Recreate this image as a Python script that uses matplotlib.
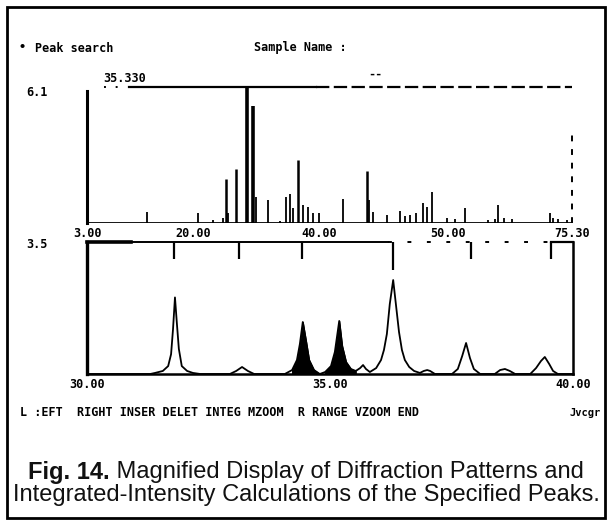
import matplotlib
matplotlib.use("Agg")
import matplotlib.pyplot as plt
from matplotlib.patches import Rectangle
from matplotlib.lines import Line2D

# ---------------- data ----------------
# Top panel: full-range stick pattern (2-theta, relative intensity %)
top_theta = [11.9, 19.5, 21.8, 23.3, 23.7, 24.0, 25.2, 26.9, 27.7, 28.2, 30.0,
             31.8, 32.7, 33.3, 33.7, 34.5, 35.2, 35.9, 36.7, 37.6, 41.2, 44.7,
             45.0, 45.6, 47.7, 49.7, 50.4, 51.1, 52.0, 53.1, 53.7, 54.4, 56.7,
             57.9, 59.3, 62.8, 63.8, 64.3, 65.2, 66.4, 72.0, 72.5, 73.2, 74.5]
top_int = [8, 7, 2, 4, 32, 7, 40, 100, 86, 19, 17,
           1.5, 19, 21, 11, 46, 13, 12, 7, 7, 18, 38,
           17, 8, 6, 9, 5, 6, 7, 15, 12, 23, 4,
           3, 11, 2, 3, 13, 4, 3, 7, 4, 3, 2]
top_ticks = [3.0, 18.8, 37.6, 56.8, 75.3]
top_tick_labels = ["3.00", "20.00", "40.00", "50.00", "75.30"]

# Bottom panel: magnified profile 30-40 deg (2-theta, intensity %)
bot_theta = [30.00, 31.30, 31.40, 31.56, 31.67, 31.73, 31.77, 31.81, 31.85, 31.89,
             31.95, 32.06, 32.18, 32.33,
             32.94, 33.07, 33.19, 33.31, 33.44,
             34.07, 34.22, 34.32, 34.38, 34.44, 34.51, 34.57, 34.67, 34.79,
             34.90, 35.02, 35.10, 35.19, 35.25, 35.33, 35.43, 35.53, 35.62,
             35.68, 35.74, 35.82,
             35.95, 36.05, 36.11, 36.17, 36.23, 36.30, 36.36, 36.42, 36.48,
             36.54, 36.63, 36.73, 36.85,
             36.93, 37.00, 37.06, 37.16,
             37.51, 37.63, 37.72, 37.80, 37.88, 37.96, 38.09,
             38.39, 38.50, 38.60, 38.70, 38.81,
             39.12, 39.24, 39.34, 39.42, 39.51, 39.59, 39.69, 40.00]
bot_int = [0, 0, 0.8, 2.3, 6, 15, 34, 58, 38, 19,
           6, 2.3, 0.8, 0,
           0, 2.3, 5.3, 2.3, 0,
           0, 3, 10.6, 22.7, 39.4, 24.2, 10.6, 3, 0,
           1.5, 6, 16.7, 40.2, 21.2, 9.1, 3.8, 2.3, 4.5,
           6.8, 3.8, 1.5,
           4.5, 10.6, 18.2, 30.3, 53, 71.2, 51.5, 31.8, 18.2,
           10.6, 5.3, 2.3, 0.8,
           2.3, 3, 2.3, 0,
           0, 3.8, 13.6, 23.5, 12.1, 3.8, 0,
           0, 3, 3.8, 2.3, 0,
           0, 4.5, 9.8, 12.9, 7.6, 2.3, 0, 0]
# integration windows (filled black)
int_windows = [(34.20, 34.80), (34.88, 35.60)]
# specified-peak markers hanging from top of the magnified panel
marker_theta = [31.79, 33.13, 34.42, 36.30, 37.90, 39.55]
marker_bottom = [87, 87, 87, 79, 87, 87]
bot_ticks = [30.0, 35.0, 40.0]
bot_tick_labels = ["30.00", "35.00", "40.00"]

caption_bold = "Fig. 14."
caption_line1 = " Magnified Display of Diffraction Patterns and"
caption_line2 = "Integrated-Intensity Calculations of the Specified Peaks."

# ---------------- figure ----------------
W, H = 612, 524
fig = plt.figure(figsize=(W / 100, H / 100), dpi=100)
fig.patch.set_facecolor("white")

def fx(px):
    return px / W

def fy(py):
    return 1 - py / H

mono = dict(family="DejaVu Sans Mono", fontweight="bold", fontsize=8.5, color="black")

# outer frame
fig.patches.append(Rectangle((fx(7), fy(518)), fx(605) - fx(7), fy(7) - fy(518),
                             transform=fig.transFigure, fill=False, lw=2.0,
                             edgecolor="black"))

# header texts
fig.text(fx(22), fy(48), "\u2022", va="center", ha="center", **mono)
fig.text(fx(35), fy(48), "Peak search", va="center", ha="left", **mono)
fig.text(fx(300), fy(48), "Sample Name :", va="center", ha="center", **mono)
fig.text(fx(103), fy(79), "35.330", va="center", ha="left", **mono)
fig.text(fx(375), fy(74), "--", va="center", ha="center", **mono)
fig.text(fx(37), fy(92), "6.1", va="center", ha="center", **mono)
fig.text(fx(37), fy(245), "3.5", va="center", ha="center", **mono)

# ---------------- top panel ----------------
ax1 = fig.add_axes([fx(87), fy(223), fx(572) - fx(87), fy(87) - fy(223)])
ax1.set_xlim(3.0, 75.3)
ax1.set_ylim(0, 100)
for s in ax1.spines.values():
    s.set_visible(False)
ax1.set_yticks([])
ax1.set_xticks(top_ticks)
ax1.set_xticklabels(top_tick_labels, **mono)
ax1.tick_params(axis="x", length=0, pad=3)

widths = [2.6 if v >= 80 else (1.8 if v >= 30 else 1.3) for v in top_int]
ax1.vlines(top_theta, 0, top_int, colors="black", linewidth=widths)
ax1.axhline(0, color="black", lw=2.0)
ax1.add_line(Line2D([0, 0], [0, 0.97], transform=ax1.transAxes, color="black",
                    lw=2.2, clip_on=False))
ax1.add_line(Line2D([0.087, 0.472], [1, 1], transform=ax1.transAxes, color="black",
                    lw=1.6, clip_on=False))
ax1.add_line(Line2D([0.472, 1.0], [1, 1], transform=ax1.transAxes, color="black",
                    lw=1.6, ls=(0, (6, 2)), clip_on=False))
ax1.add_line(Line2D([0.035, 0.07], [1, 1], transform=ax1.transAxes, color="black",
                    lw=1.4, ls=(0, (1, 5)), clip_on=False))
ax1.add_line(Line2D([1, 1], [0, 0.66], transform=ax1.transAxes, color="black",
                    lw=1.4, ls=(0, (3, 4)), clip_on=False))

# ---------------- bottom panel ----------------
ax2 = fig.add_axes([fx(87), fy(374), fx(573) - fx(87), fy(242) - fy(374)])
ax2.set_xlim(30, 40)
ax2.set_ylim(0, 100)
ax2.spines["top"].set_visible(False)
for k in ("right", "bottom"):
    ax2.spines[k].set_linewidth(1.8)
ax2.spines["left"].set_linewidth(2.4)
ax2.set_yticks([])
ax2.set_xticks(bot_ticks)
ax2.set_xticklabels(bot_tick_labels, **mono)
ax2.tick_params(axis="x", length=0, pad=3)

ax2.plot(bot_theta, bot_int, color="black", lw=1.3)
for lo, hi in int_windows:
    ax2.fill_between(bot_theta, 0, bot_int,
                     where=[lo <= t <= hi for t in bot_theta],
                     color="black", lw=0.8)
ax2.vlines(marker_theta, marker_bottom, 100, colors="black", lw=1.6)
ax2.add_line(Line2D([0, 0.09], [1, 1], transform=ax2.transAxes, color="black",
                    lw=2.6, clip_on=False))
ax2.add_line(Line2D([0.09, 0.62], [1, 1], transform=ax2.transAxes, color="black",
                    lw=1.4, clip_on=False))
ax2.add_line(Line2D([0.62, 0.95], [1, 1], transform=ax2.transAxes, color="black",
                    lw=1.4, ls=(0, (2, 8)), clip_on=False))
ax2.add_line(Line2D([0.955, 1.0], [1, 1], transform=ax2.transAxes, color="black",
                    lw=1.6, clip_on=False))

# command line
fig.text(fx(20), fy(413), "L :EFT  RIGHT INSER DELET INTEG MZOOM  R RANGE VZOOM END",
         va="center", ha="left", **mono)
fig.text(fx(601), fy(413), "Jvcgr", va="center", ha="right",
         **{**mono, "fontsize": 7.5})

# caption
cap = dict(family="Liberation Sans", fontsize=17, color="#111111")
renderer = fig.canvas.get_renderer()
tb = fig.text(0, fy(472), caption_bold, ha="left", va="center",
              fontweight="bold", **cap)
tr = fig.text(0, fy(472), caption_line1, ha="left", va="center", **cap)
wb = tb.get_window_extent(renderer).width
wr = tr.get_window_extent(renderer).width
x0 = (W - (wb + wr)) / 2
tb.set_x(fx(x0))
tr.set_x(fx(x0 + wb))
fig.text(fx(306), fy(495), caption_line2, ha="center", va="center", **cap)

fig.savefig("out.png", dpi=100)
